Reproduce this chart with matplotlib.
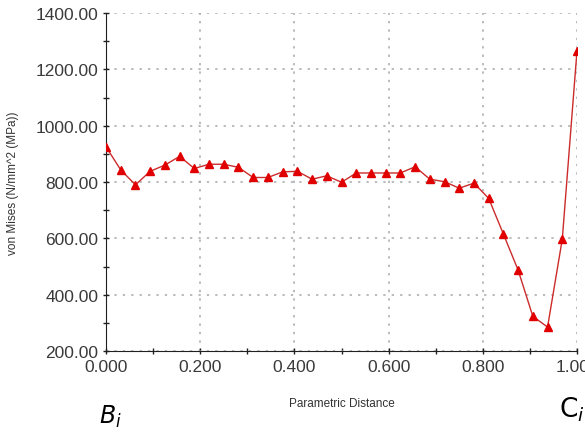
import matplotlib
matplotlib.use("Agg")
import matplotlib.pyplot as plt
from matplotlib.ticker import MultipleLocator, FormatStrFormatter

# parametric distance (33 equally spaced probe points) and von Mises stress
dist = [i / 32 for i in range(33)]
stress = [925, 843, 790, 838, 860, 891, 848, 863, 863, 852, 816, 816, 836,
          838, 810, 822, 799, 832, 832, 832, 832, 854, 810, 801, 778, 796,
          742, 615, 487, 323, 285, 597, 1266]

plt.rcParams['font.family'] = ['Liberation Sans', 'DejaVu Sans']
plt.rcParams['mathtext.fontset'] = 'dejavusans'

fig = plt.figure(figsize=(5.85, 4.39), dpi=100)
ax = fig.add_axes([106 / 585, 1 - 352 / 439, 471 / 585, 338 / 439])

ax.plot(dist, stress, color="#cc2b2b", lw=1.0, marker="^", ms=5.5,
        mfc="#e00000", mec="#e00000", zorder=3)

ax.set_xlim(0, 1.0)
ax.set_ylim(200, 1400)
ax.xaxis.set_major_locator(MultipleLocator(0.2))
ax.xaxis.set_minor_locator(MultipleLocator(0.1))
ax.yaxis.set_major_locator(MultipleLocator(200))
ax.yaxis.set_minor_locator(MultipleLocator(100))
ax.xaxis.set_major_formatter(FormatStrFormatter("%.3f"))
ax.yaxis.set_major_formatter(FormatStrFormatter("%.2f"))

ax.spines['top'].set_visible(False)
ax.spines['right'].set_visible(False)
ax.spines['left'].set_color("#202020")
ax.spines['bottom'].set_color("#202020")
ax.tick_params(which="both", direction="inout", length=5, width=1, color="#202020")
ax.tick_params(which="major", labelsize=12.5, labelcolor="#3a3a3a", pad=3)
ax.grid(True, which="major", ls=(0, (1.5, 4)), color="#a8a8a8", lw=1.1)
ax.set_axisbelow(True)

ax.set_xlabel("Parametric Distance", fontsize=8.5, color="#333333", labelpad=17)
ax.set_ylabel("von Mises (N/mm^2 (MPa))", fontsize=8.5, color="#333333", labelpad=12)

fig.text(110 / 585, 1 - 417 / 439, r"$B_i$", fontsize=17, ha="center", va="center")
fig.text(572 / 585, 1 - 410 / 439, r"$\mathrm{C}_i$", fontsize=19, ha="center", va="center")

fig.savefig("out.png", dpi=100)
